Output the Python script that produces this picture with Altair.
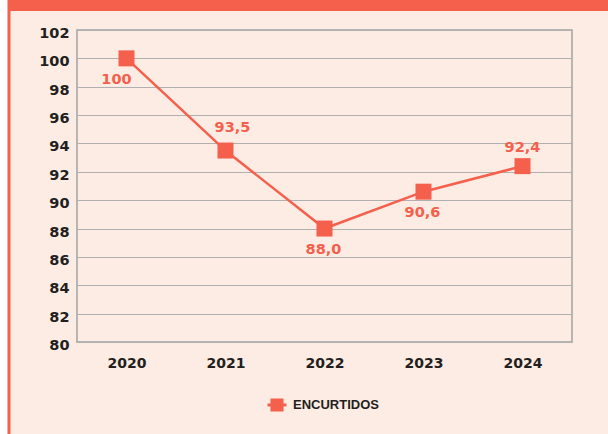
import altair as alt
import pandas as pd

# ---- data ----
years = ["2020", "2021", "2022", "2023", "2024"]
values = [100, 93.5, 88.0, 90.6, 92.4]
labels = ["100", "93,5", "88,0", "90,6", "92,4"]
series = "ENCURTIDOS"
y_ticks = [80, 82, 84, 86, 88, 90, 92, 94, 96, 98, 100, 102]

CORAL = "#F4604C"
BG = "#FDECE4"
DARK = "#231F20"
GRID = "#B0B0B0"

df = pd.DataFrame({"year": years, "value": values, "label": labels, "serie": [series] * len(years)})

W, H = 495, 312
PAD = {"left": 77, "top": 30, "right": 36, "bottom": 92}

base = alt.Chart(df)

x_enc = alt.X("year:N", sort=years,
              scale=alt.Scale(type="point", padding=0.5),
              axis=alt.Axis(title=None, domain=False, ticks=False, grid=False,
                            labelAngle=0, labelFont="DejaVu Sans", labelFontWeight="bold",
                            labelFontSize=14, labelColor=DARK, labelPadding=14))
y_enc = alt.Y("value:Q",
              scale=alt.Scale(domain=[80, 102], nice=False, zero=False),
              axis=alt.Axis(title=None, domain=False, ticks=False, grid=True,
                            values=y_ticks, gridColor=GRID, gridWidth=1.2,
                            labelOverlap=False,
                            labelFont="DejaVu Sans", labelFontWeight="bold",
                            labelFontSize=14.5, labelColor=DARK, labelPadding=8,
                            labelOffset=3.5))

line = base.mark_line(color=CORAL, strokeWidth=2.5).encode(x=x_enc, y=y_enc)

points = base.mark_square(size=256, opacity=1, filled=True).encode(
    x=x_enc, y=y_enc,
    color=alt.Color("serie:N", scale=alt.Scale(domain=[series], range=[CORAL]),
                    legend=alt.Legend(title=None, orient="none", legendX=189, legendY=364,
                                      padding=0,
                                      symbolType="M-1,0L1,0M-0.53,-0.53L0.53,-0.53L0.53,0.53L-0.53,0.53Z",
                                      symbolSize=361, symbolStrokeWidth=3,
                                      symbolStrokeColor=CORAL, symbolFillColor=CORAL,
                                      labelFont="Liberation Sans", labelFontWeight="bold",
                                      labelFontSize=13, labelColor=DARK, labelOffset=5)))

def text_layer(sel, dx, dy):
    return base.transform_filter(
        alt.FieldOneOfPredicate(field="year", oneOf=sel)
    ).mark_text(color=CORAL, font="DejaVu Sans", fontWeight="bold", fontSize=14.5,
                dx=dx, dy=dy, baseline="middle").encode(
        x=x_enc, y=y_enc, text="label:N")

t1 = text_layer(["2020"], -10, 22)
t2 = text_layer(["2021"], 7, -23)
t3 = text_layer(["2022", "2023"], -1, 21)
t4 = text_layer(["2024"], 0, -18)

one = alt.Data(values=[{"a": 1}])
band = alt.Chart(one).mark_rect(color=CORAL).encode(
    x=alt.value(-69.5), x2=alt.value(531), y=alt.value(-30), y2=alt.value(-19))
left_line = alt.Chart(one).mark_rect(color=CORAL).encode(
    x=alt.value(-69.5), x2=alt.value(-66.5), y=alt.value(-19), y2=alt.value(404))
white_strip = alt.Chart(one).mark_rect(color="white").encode(
    x=alt.value(-77), x2=alt.value(-69.5), y=alt.value(-30), y2=alt.value(404))

chart = alt.layer(line, points, t1, t2, t3, t4, white_strip, band, left_line).properties(
    width=W, height=H, background=BG, padding=PAD,
    autosize=alt.AutoSizeParams(type="none")
).configure_view(stroke="#A3A3A3", strokeWidth=1.5, fill=BG)

chart.save("out.html", embed_options={"renderer": "svg", "actions": False})
